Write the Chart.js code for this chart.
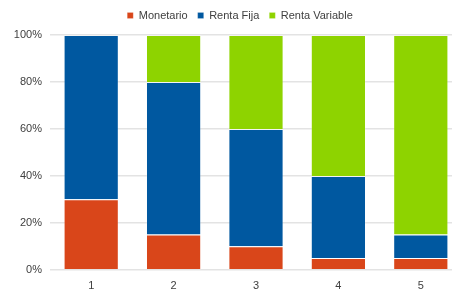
<!DOCTYPE html>
<html>
<head>
<meta charset="utf-8">
<script src="https://cdn.jsdelivr.net/npm/chart.js@4"></script>
<style>
    html, body { margin: 0; padding: 0; background: #fff; overflow: hidden; }
    #wrap { width: 452px; height: 291px; overflow: hidden; }
    canvas { display: block; }
</style>
</head>
<body>
<div id="wrap"><canvas id="myChart" width="462" height="291"></canvas></div>
<script>
let labels = ['1', '2', '3', '4', '5'];
let monetario = [30, 15, 10, 5, 5];
let rentaFija = [70, 65, 50, 35, 10];
let rentaVariable = [0, 20, 40, 60, 85];
let colors = ['#D9461A', '#0058A0', '#8ED300'];

Chart.defaults.font.family = '"Liberation Sans", Arial, sans-serif';
Chart.defaults.font.size = 11;
Chart.defaults.color = '#404040';

// nudge the legend a bit right and up, like the original
let legendShift = {
    id: 'legendShift',
    afterLayout: function (chart) {
        let lg = chart.legend;
        lg.left += 9;
        lg.right += 9;
        lg.top -= 4;
        lg.bottom -= 4;
    }
};

let ctx = document.getElementById('myChart').getContext('2d');

let chart = new Chart(ctx, {
    type: 'bar',
    data: {
        labels: labels,
        datasets: [
            { label: 'Monetario', data: monetario, backgroundColor: colors[0] },
            { label: 'Renta Fija', data: rentaFija, backgroundColor: colors[1] },
            { label: 'Renta Variable', data: rentaVariable, backgroundColor: colors[2] }
        ]
    },
    plugins: [legendShift],
    options: {
        responsive: false,
        animation: false,
        layout: { padding: { top: 4, left: 0, right: 0, bottom: -12 } },
        datasets: {
            bar: {
                categoryPercentage: 1,
                barPercentage: 0.67,
                borderWidth: 1,
                borderColor: 'rgba(255,255,255,0.18)'
            }
        },
        plugins: {
            legend: {
                position: 'top',
                labels: { boxWidth: 6, boxHeight: 6, padding: 10 }
            },
            tooltip: { enabled: false }
        },
        scales: {
            x: {
                stacked: true,
                grid: { display: false, drawTicks: false, tickLength: 0 },
                border: { display: false },
                ticks: { padding: 10 }
            },
            y: {
                stacked: true,
                min: 0,
                max: 100,
                ticks: { stepSize: 20, callback: function (v) { return v + '%'; }, padding: 8 },
                grid: { color: '#e3e3e3', lineWidth: 1.5, drawTicks: false },
                border: { display: false },
                afterFit: function (axis) { axis.width = 50; }
            }
        }
    }
});
</script>
</body>
</html>
